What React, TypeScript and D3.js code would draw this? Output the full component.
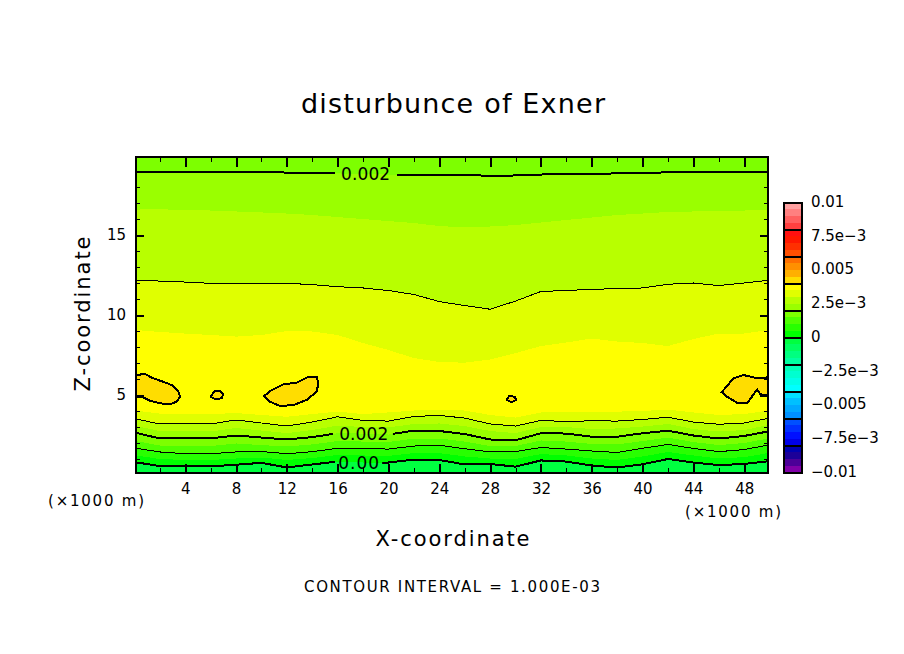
import * as d3 from "d3";
import { useEffect, useRef } from "react";

const WIDTH = 904;
const HEIGHT = 654;
const FONT = "'DejaVu Sans', sans-serif";

// x stations (x1000 m) for the contour heights below
const stations = [0.125, 2, 4, 6, 8, 10, 12, 14, 16, 18, 20, 22, 24, 26, 28, 30, 32, 34, 36, 38, 40, 42, 44, 46, 48, 49.875];

// height (x1000 m) of each level under the Exner maximum
const lower00 = [0.79, 0.56, 0.58, 0.54, 0.64, 0.76, 0.47, 0.66, 0.84, 0.78, 0.78, 0.96, 0.94, 0.66, 0.69, 0.52, 0.91, 0.84, 0.59, 0.47, 0.67, 1.0, 0.78, 0.62, 0.69, 0.86];
const lower05 = [1.22, 1.0, 0.94, 0.94, 1.03, 1.09, 0.94, 1.06, 1.25, 1.22, 1.19, 1.37, 1.37, 1.16, 1.03, 1.0, 1.31, 1.22, 1.03, 0.94, 1.16, 1.44, 1.22, 1.03, 1.12, 1.37];
const lower10 = [1.67, 1.44, 1.33, 1.33, 1.44, 1.47, 1.33, 1.46, 1.67, 1.66, 1.62, 1.81, 1.86, 1.64, 1.44, 1.47, 1.72, 1.62, 1.5, 1.41, 1.67, 1.91, 1.66, 1.46, 1.59, 1.87];
const lower15 = [2.12, 1.84, 1.81, 1.81, 1.97, 1.87, 1.78, 1.91, 2.12, 2.09, 2.06, 2.28, 2.28, 2.09, 1.81, 1.81, 2.16, 2.09, 1.94, 1.91, 2.12, 2.34, 2.06, 1.87, 2.0, 2.28];
const lower20 = [2.64, 2.28, 2.34, 2.29, 2.47, 2.34, 2.22, 2.37, 2.61, 2.59, 2.53, 2.77, 2.75, 2.56, 2.22, 2.17, 2.61, 2.59, 2.39, 2.39, 2.61, 2.77, 2.47, 2.28, 2.44, 2.72];
const lower25 = [3.06, 2.75, 2.75, 2.72, 2.94, 2.78, 2.62, 2.81, 3.09, 3.0, 2.97, 3.19, 3.22, 3.06, 2.75, 2.62, 3.0, 3.0, 2.87, 2.91, 3.03, 3.19, 2.87, 2.72, 2.81, 3.12];
const lower30 = [3.5, 3.19, 3.21, 3.19, 3.44, 3.25, 3.06, 3.31, 3.64, 3.41, 3.37, 3.66, 3.72, 3.56, 3.19, 3.06, 3.41, 3.34, 3.39, 3.37, 3.47, 3.61, 3.31, 3.17, 3.25, 3.54];
const lower35 = [4.02, 3.84, 3.81, 3.81, 3.87, 3.75, 3.64, 3.81, 3.96, 3.81, 3.91, 4.03, 4.09, 4.03, 3.75, 3.59, 3.91, 3.96, 3.94, 3.96, 4.0, 4.09, 3.91, 3.75, 3.81, 4.02];

// height of each level above the maximum
const upper35 = [9.06, 8.94, 8.84, 8.75, 8.65, 8.75, 9.0, 8.97, 8.75, 8.25, 7.81, 7.31, 7.06, 7.02, 7.22, 7.62, 8.06, 8.28, 8.53, 8.34, 8.25, 8.06, 8.5, 8.84, 8.84, 9.06];
const upper30 = [12.17, 12.12, 12.06, 11.98, 11.98, 11.98, 11.98, 11.9, 11.77, 11.69, 11.53, 11.28, 10.84, 10.59, 10.36, 10.87, 11.47, 11.53, 11.61, 11.64, 11.69, 11.92, 12.0, 11.84, 12.0, 12.17];
const upper25 = [16.59, 16.61, 16.56, 16.53, 16.47, 16.41, 16.34, 16.25, 16.12, 16.0, 15.87, 15.75, 15.56, 15.47, 15.53, 15.62, 15.78, 15.94, 16.09, 16.25, 16.34, 16.44, 16.47, 16.5, 16.53, 16.59];
const upper20 = [18.95, 18.95, 18.95, 18.95, 18.95, 18.95, 18.9, 18.87, 18.85, 18.8, 18.78, 18.78, 18.75, 18.75, 18.7, 18.72, 18.78, 18.8, 18.82, 18.85, 18.87, 18.92, 18.95, 18.95, 18.95, 18.95];

// closed 0.004 contours, [x, z]
const cellA = [[0.125, 6.25], [0.83, 6.31], [1.49, 6.04], [2.27, 5.83], [2.94, 5.62], [3.46, 5.21], [3.59, 4.89], [3.33, 4.58], [2.8, 4.42], [2.02, 4.48], [1.23, 4.64], [0.7, 4.85], [0.125, 4.89]];
const cellB = [[6.0, 4.89], [6.34, 5.27], [6.74, 5.27], [7.0, 5.06], [6.87, 4.79], [6.34, 4.75]];
const cellC = [[10.2, 4.94], [10.81, 5.31], [11.72, 5.67], [12.78, 5.77], [13.69, 6.14], [14.35, 6.14], [14.48, 5.73], [14.35, 5.21], [13.56, 4.69], [12.51, 4.37], [11.46, 4.31], [10.67, 4.58]];
const cellD = [[29.31, 4.69], [29.51, 4.94], [29.96, 4.89], [30.04, 4.69], [29.7, 4.54]];
const cellE = [[46.23, 5.17], [47.15, 6.04], [47.94, 6.25], [48.86, 6.08], [49.65, 6.04], [49.875, 6.14], [49.875, 5.0], [49.27, 5.04], [49.02, 5.35], [48.23, 4.48], [47.44, 4.52], [46.65, 4.89]];

// top of the color bar first
const colorbarColors = [
    "#ffa0a0", "#ff8080", "#ff6060", "#ff4040",
    "#ff1010", "#ff1800", "#ff3000", "#ff5000",
    "#ff7000", "#ff9000", "#ffb000", "#ffdd00",
    "#ffff00", "#e0ff00", "#b8ff00", "#9aff00",
    "#7dff00", "#50ff00", "#28ff00", "#00ff00",
    "#00ff40", "#00ff60", "#00ff80", "#00ffa0",
    "#00ffb8", "#00ffd0", "#00ffe8", "#00ffff",
    "#00e0ff", "#00c0ff", "#00a8ff", "#0090ff",
    "#0050ff", "#0030ff", "#0010ff", "#0000e8",
    "#0000b0", "#1c0098", "#4c0098", "#8000a8",
];
const colorbarTicks = [0.01, 0.0075, 0.005, 0.0025, 0, -0.0025, -0.005, -0.0075, -0.01];
const colorbarLabels = ["0.01", "7.5e−3", "0.005", "2.5e−3", "0", "−2.5e−3", "−0.005", "−7.5e−3", "−0.01"];
const colorbarBreaks = [0.008, 0.006, 0.004, 0.002, 0, -0.002, -0.004, -0.006, -0.008];

const xMajor = [4, 8, 12, 16, 20, 24, 28, 32, 36, 40, 44, 48];
const xMinor = [2, 6, 10, 14, 18, 22, 26, 30, 34, 38, 42, 46];
const yMajor = [5, 10, 15];
const yMinor = [1, 2, 3, 4, 6, 7, 8, 9, 11, 12, 13, 14, 16, 17, 18, 19];

export default function App() {
    const svgRef = useRef<SVGSVGElement | null>(null);

    useEffect(() => {
        if (!svgRef.current) return;
        const svg = d3.select(svgRef.current);
        svg.selectAll("*").remove();

        const x = d3.scaleLinear().domain([0.125, 49.875]).range([136, 768]);
        const y = d3.scaleLinear().domain([0.125, 19.875]).range([473, 157]);
        const cy = d3.scaleLinear().domain([-0.01, 0.01]).range([472.5, 202.5]);
        const color = d3.scaleQuantize<string>().domain([-0.01, 0.01]).range([...colorbarColors].reverse());
        const [left, right] = x.range();
        const [bottom, top] = y.range();

        const defs = svg.append("defs");
        defs.append("clipPath").attr("id", "plot").append("rect").attr("x", left).attr("y", top).attr("width", right - left).attr("height", bottom - top);
        const gapClip = (id: string, from: number, to: number) => {
            const clip = defs.append("clipPath").attr("id", id);
            clip.append("rect").attr("x", left).attr("y", top).attr("width", x(from) - left).attr("height", bottom - top);
            clip.append("rect").attr("x", x(to)).attr("y", top).attr("width", right - x(to)).attr("height", bottom - top);
        };
        gapClip("gapUpper20", 15.79, 20.67);
        gapClip("gapLower20", 15.63, 20.35);
        gapClip("gapLower00", 15.79, 19.5);

        const plot = svg.append("g").attr("clip-path", "url(#plot)").attr("shape-rendering", "crispEdges");

        // filled bands, bottom to top
        const bands: [number[] | null, number[] | null, number][] = [
            [null, lower00, -0.00025],
            [lower00, lower05, 0.00025],
            [lower05, lower10, 0.00075],
            [lower10, lower15, 0.00125],
            [lower15, lower20, 0.00175],
            [lower20, lower25, 0.00225],
            [lower25, lower30, 0.00275],
            [lower30, lower35, 0.00325],
            [lower35, upper35, 0.00375],
            [upper35, upper30, 0.00325],
            [upper30, upper25, 0.00275],
            [upper25, upper20, 0.00225],
            [upper20, null, 0.00175],
        ];
        const area = d3.area<number>().x((d) => x(d));
        bands.forEach(([lo, hi, value]) => {
            area.y0((_, i) => (lo ? y(lo[i]) : bottom)).y1((_, i) => (hi ? y(hi[i]) : top));
            plot.append("path").attr("fill", color(value)).attr("d", area(stations) ?? "");
        });

        const line = d3.line<number>().x((d) => x(d));
        const contour = (heights: number[], width: number, clip?: string) => {
            line.y((_, i) => y(heights[i]));
            plot.append("path")
                .attr("fill", "none")
                .attr("stroke", "#000")
                .attr("stroke-width", width)
                .attr("clip-path", clip ? `url(#${clip})` : null)
                .attr("d", line(stations) ?? "");
        };
        contour(lower00, 2, "gapLower00");
        contour(lower10, 1);
        contour(lower20, 2, "gapLower20");
        contour(lower30, 1);
        contour(upper30, 1);
        contour(upper20, 2, "gapUpper20");

        const cellLine = d3
            .line<number[]>()
            .x((d) => x(d[0]))
            .y((d) => y(d[1]))
            .curve(d3.curveLinearClosed);
        [cellA, cellB, cellC, cellD, cellE].forEach((cell) => {
            plot.append("path").attr("fill", color(0.00425)).attr("stroke", "#000").attr("stroke-width", 2).attr("d", cellLine(cell) ?? "");
        });

        const contourLabel = (label: string, cx: number, cz: number, length: number) => {
            svg.append("text")
                .attr("x", cx)
                .attr("y", y(cz))
                .attr("dy", "0.36em")
                .attr("text-anchor", "middle")
                .attr("font-family", FONT)
                .attr("font-size", 17)
                .attr("textLength", length)
                .attr("fill", "#000")
                .text(label);
        };
        contourLabel("0.002", x(18.2), 18.82, 49);
        contourLabel("0.002", x(18.05), 2.55, 49);
        contourLabel("0.00", x(17.65), 0.74, 41);

        // axes: ticks point into the frame on all four sides
        const styleAxis = (g: d3.Selection<SVGGElement, unknown, null, undefined>, width: number) => {
            g.select(".domain").remove();
            g.selectAll("line").attr("stroke", "#000").attr("stroke-width", width).attr("shape-rendering", "crispEdges");
            g.selectAll("text").attr("font-family", FONT).attr("font-size", 15).attr("fill", "#000");
        };
        const axes = svg.append("g");
        axes.append("g")
            .attr("transform", `translate(0,${bottom})`)
            .call(d3.axisBottom(x).tickValues(xMajor).tickSize(-9).tickPadding(10).tickFormat((d) => String(d)))
            .call(styleAxis, 2);
        axes.append("g")
            .attr("transform", `translate(0,${bottom})`)
            .call(d3.axisBottom(x).tickValues(xMinor).tickSize(-5).tickFormat(() => ""))
            .call(styleAxis, 1);
        axes.append("g")
            .attr("transform", `translate(0,${top})`)
            .call(d3.axisTop(x).tickValues(xMajor).tickSize(-10).tickFormat(() => ""))
            .call(styleAxis, 2);
        axes.append("g")
            .attr("transform", `translate(0,${top})`)
            .call(d3.axisTop(x).tickValues(xMinor).tickSize(-5).tickFormat(() => ""))
            .call(styleAxis, 1);
        axes.append("g")
            .attr("transform", `translate(${left},0)`)
            .call(d3.axisLeft(y).tickValues(yMajor).tickSize(-8).tickPadding(10).tickFormat((d) => String(d)))
            .call(styleAxis, 2);
        axes.append("g")
            .attr("transform", `translate(${left},0)`)
            .call(d3.axisLeft(y).tickValues(yMinor).tickSize(-4).tickFormat(() => ""))
            .call(styleAxis, 1);
        axes.append("g")
            .attr("transform", `translate(${right},0)`)
            .call(d3.axisRight(y).tickValues(yMajor).tickSize(-8).tickFormat(() => ""))
            .call(styleAxis, 2);
        axes.append("g")
            .attr("transform", `translate(${right},0)`)
            .call(d3.axisRight(y).tickValues(yMinor).tickSize(-4).tickFormat(() => ""))
            .call(styleAxis, 1);

        svg.append("rect")
            .attr("x", left)
            .attr("y", top)
            .attr("width", right - left)
            .attr("height", bottom - top)
            .attr("fill", "none")
            .attr("stroke", "#000")
            .attr("stroke-width", 2)
            .attr("shape-rendering", "crispEdges");

        // color bar
        const bar = svg.append("g").attr("shape-rendering", "crispEdges");
        const barX = 784;
        const barW = 18;
        const cellValue = (i: number) => 0.01 - (i + 0.5) * 0.0005;
        bar.selectAll("rect.cell")
            .data(colorbarColors)
            .enter()
            .append("rect")
            .attr("class", "cell")
            .attr("x", barX)
            .attr("width", barW)
            .attr("y", (_, i) => cy(cellValue(i) + 0.00025))
            .attr("height", (_, i) => cy(cellValue(i) - 0.00025) - cy(cellValue(i) + 0.00025) + 0.5)
            .attr("fill", (d) => d);
        bar.selectAll("line.break")
            .data(colorbarBreaks)
            .enter()
            .append("line")
            .attr("class", "break")
            .attr("x1", barX)
            .attr("x2", barX + barW)
            .attr("y1", (d) => cy(d))
            .attr("y2", (d) => cy(d))
            .attr("stroke", "#000")
            .attr("stroke-width", 2);
        bar.append("rect")
            .attr("x", barX)
            .attr("y", cy(0.01))
            .attr("width", barW)
            .attr("height", cy(-0.01) - cy(0.01))
            .attr("fill", "none")
            .attr("stroke", "#000")
            .attr("stroke-width", 2);
        svg.append("g")
            .selectAll("text")
            .data(colorbarTicks)
            .enter()
            .append("text")
            .attr("x", 811)
            .attr("y", (d) => cy(d) - 1)
            .attr("dy", "0.36em")
            .attr("font-family", FONT)
            .attr("font-size", 15)
            .attr("fill", "#000")
            .text((_, i) => colorbarLabels[i]);

        // titles
        const addText = (label: string, tx: number, ty: number, size: number, length: number, rotate = false) => {
            svg.append("text")
                .attr("transform", `translate(${tx},${ty})${rotate ? " rotate(-90)" : ""}`)
                .attr("text-anchor", "middle")
                .attr("font-family", FONT)
                .attr("font-size", size)
                .attr("textLength", length)
                .attr("fill", "#000")
                .text(label);
        };
        addText("disturbunce of Exner", 453, 113, 27, 304);
        addText("X-coordinate", 452.5, 546, 21, 154);
        addText("Z-coordinate", 90, 314, 21, 155, true);
        addText("(×1000 m)", 96, 506, 15, 96);
        addText("(×1000 m)", 733, 517, 15, 96);
        addText("CONTOUR INTERVAL = 1.000E-03", 452, 592, 15, 296);

        return () => {
            svg.selectAll("*").remove();
        };
    }, []);

    return (
        <svg
            ref={svgRef}
            width={WIDTH}
            height={HEIGHT}
            style={{ position: "absolute", left: 0, top: 0, display: "block", background: "#fff" }}
        />
    );
}
